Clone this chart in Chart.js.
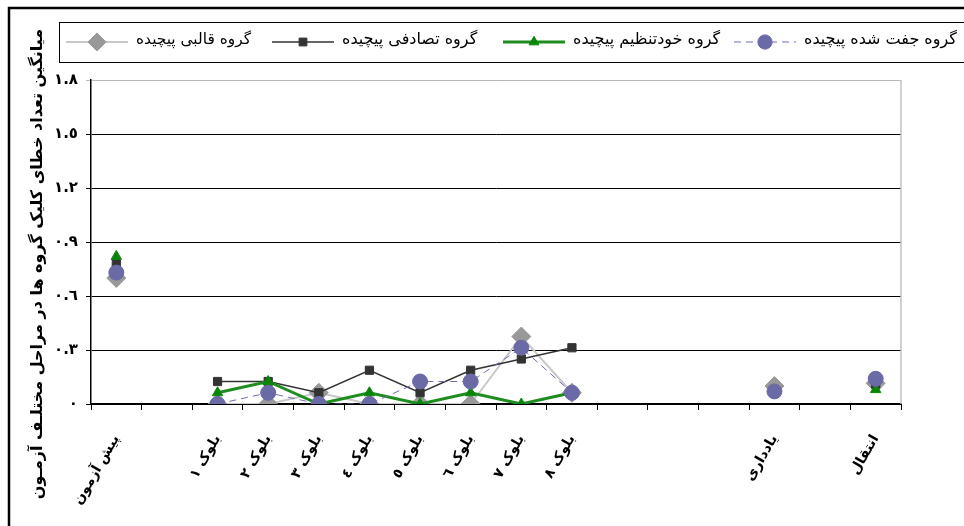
<!DOCTYPE html>
<html>
<head>
<meta charset="utf-8">
<script src="https://cdn.jsdelivr.net/npm/chart.js@4.4.1/dist/chart.umd.min.js"></script>
<style>
  html, body { margin: 0; padding: 0; background: #fff; }
  #wrap { width: 964px; height: 526px; position: relative; }
</style>
</head>
<body>
<div id="wrap"><canvas id="c" width="964" height="526"></canvas></div>
<script>
// Stages of the test (empty slots keep the spacing between groups of stages)
const categories = [
  'پیش آزمون', '',
  'بلوک ١', 'بلوک ٢', 'بلوک ٣', 'بلوک ٤', 'بلوک ٥', 'بلوک ٦', 'بلوک ٧', 'بلوک ٨',
  '', '', '', 'یادداری', '', 'انتقال'
];

// Mean click-error counts per group
const pairedValues    = [0.73, null, 0,      0.0625, 0,      0,      0.125,  0.125,  0.3125, 0.0625, null, null, null, 0.07,  null, 0.14];
const selfRegValues   = [0.82, null, 0.0625, 0.125,  0,      0.0625, 0,      0.0625, 0,      0.0625, null, null, null, 0.065, null, 0.08];
const randomValues    = [0.78, null, 0.125,  0.125,  0.0625, 0.1875, 0.0625, 0.1875, 0.25,   0.3125, null, null, null, 0.07,  null, 0.11];
const blockedValues   = [0.70, null, 0,      0,      0.0625, 0,      0,      0,      0.375,  0.0625, null, null, null, 0.10,  null, 0.115];

const seriesNames = ['گروه جفت شده پیچیده', 'گروه خودتنظیم پیچیده', 'گروه تصادفی پیچیده', 'گروه قالبی پیچیده'];

const yTickValues = [0, 0.3, 0.6, 0.9, 1.2, 1.5, 1.8];
const yTickLabels = ['٠', '٠.٣', '٠.٦', '٠.٩', '١.٢', '١.٥', '١.٨'];

const yTitle = 'میانگین تعداد خطای کلیک گروه ها در مراحل مختلـف آزمـون';

const FONT = '"DejaVu Sans", "Liberation Sans", sans-serif';

const styles = [
  { line: '#6f6fb0', fill: '#6a6aa6', width: 1, dash: [7, 5], point: 'circle', r: 7.5 },
  { line: '#1e8c1e', fill: '#0a850a', width: 3, dash: [], point: 'triangle', r: 6 },
  { line: '#333333', fill: '#333333', width: 1.5, dash: [], point: 'rect', r: 5.8 },
  { line: '#c8c8c8', fill: '#999999', width: 2, dash: [], point: 'rectRot', r: 9.5 }
];
const seriesData = [pairedValues, selfRegValues, randomValues, blockedValues];

function fitFont(ctx, text, weight, size, maxWidth) {
  ctx.font = weight + ' ' + size + 'px ' + FONT;
  const w = ctx.measureText(text).width;
  if (w > maxWidth) {
    size = size * maxWidth / w;
    ctx.font = weight + ' ' + size.toFixed(2) + 'px ' + FONT;
  }
}

// Page frame, legend box, right plot border and the vertical axis title
const decorations = {
  id: 'decorations',
  beforeDraw(chart) {
    const ctx = chart.ctx;
    ctx.save();
    ctx.fillStyle = '#fff';
    ctx.fillRect(0, 0, chart.width, chart.height);
    ctx.strokeStyle = '#000';
    ctx.lineWidth = 2.5;
    ctx.strokeRect(9, 8, 1000, 1000);
    ctx.restore();
  },
  beforeDatasetsDraw(chart) {
    const ctx = chart.ctx, a = chart.chartArea;
    ctx.save();
    ctx.strokeStyle = '#c0c0c0';
    ctx.lineWidth = 1.5;
    ctx.beginPath();
    ctx.moveTo(a.right, a.top);
    ctx.lineTo(a.right, a.bottom);
    ctx.stroke();
    ctx.restore();
  },
  afterDraw(chart) {
    const ctx = chart.ctx;
    ctx.save();
    // legend box
    ctx.strokeStyle = '#000';
    ctx.lineWidth = 1;
    ctx.strokeRect(59.5, 22.5, 1000, 40);
    const cy = 42;
    const itemX = [734, 503, 272, 66];   // one slot per series, right to left
    const textMax = [190, 148, 143, 115];
    for (let i = 0; i < 4; i++) {
      const s = styles[i];
      const x0 = itemX[i];
      ctx.strokeStyle = s.line;
      ctx.lineWidth = s.width;
      ctx.setLineDash(s.dash);
      ctx.beginPath();
      ctx.moveTo(x0, cy);
      ctx.lineTo(x0 + 62, cy);
      ctx.stroke();
      ctx.setLineDash([]);
      ctx.fillStyle = s.fill;
      ctx.strokeStyle = s.fill;
      ctx.lineWidth = 1;
      Chart.helpers.drawPoint(ctx, { pointStyle: s.point, radius: s.r * 0.95, borderWidth: 1 }, x0 + 31, cy);
      ctx.fillStyle = '#000';
      fitFont(ctx, seriesNames[i], 'normal', 16, textMax[i]);
      ctx.textAlign = 'left';
      ctx.textBaseline = 'middle';
      ctx.fillText(seriesNames[i], x0 + 70, cy - 2);
    }
    // vertical axis title
    ctx.translate(38, 264);
    ctx.rotate(-Math.PI / 2);
    ctx.fillStyle = '#000';
    fitFont(ctx, yTitle, 'bold', 16, 474);
    ctx.textAlign = 'center';
    ctx.textBaseline = 'middle';
    ctx.fillText(yTitle, 0, 0);
    ctx.restore();
  }
};

const datasets = seriesData.map((vals, i) => ({
  label: seriesNames[i],
  data: vals,
  borderColor: styles[i].line,
  borderWidth: styles[i].width,
  borderDash: styles[i].dash,
  backgroundColor: styles[i].fill,
  pointBackgroundColor: styles[i].fill,
  pointBorderColor: styles[i].fill,
  pointBorderWidth: 1,
  pointStyle: styles[i].point,
  pointRadius: styles[i].r,
  pointHoverRadius: styles[i].r,
  tension: 0,
  spanGaps: false,
  fill: false,
  order: i
}));

new Chart(document.getElementById('c'), {
  type: 'line',
  data: { labels: categories, datasets },
  options: {
    responsive: false,
    animation: false,
    devicePixelRatio: 1,
    layout: { padding: { top: 80, right: 63, left: 0, bottom: 0 } },
    plugins: { legend: { display: false }, tooltip: { enabled: false }, title: { display: false } },
    scales: {
      x: {
        type: 'category',
        offset: true,
        afterFit(scale) { scale.height = 122; },
        grid: { offset: true, drawOnChartArea: false, drawTicks: true, tickLength: 6, color: '#000', lineWidth: 1 },
        border: { display: true, color: '#000', width: 2 },
        ticks: {
          autoSkip: false, maxRotation: 60, minRotation: 60, padding: 22,
          color: '#000', font: { family: FONT, size: 14, weight: 'bold' }
        }
      },
      y: {
        min: 0, max: 1.8,
        afterFit(scale) { scale.width = 91; },
        afterBuildTicks(scale) { scale.ticks = yTickValues.map(v => ({ value: v })); },
        grid: {
          drawTicks: true, tickLength: 5,
          color: ctx => (ctx.tick && ctx.tick.value === 1.8) ? '#b8b8b8' : '#000',
          lineWidth: 1
        },
        border: { display: true, color: '#000', width: 1.5 },
        ticks: {
          padding: 8, color: '#000',
          font: { family: FONT, size: 15, weight: 'bold' },
          callback: (v, i) => yTickLabels[i]
        }
      }
    }
  },
  plugins: [decorations]
});
</script>
</body>
</html>
